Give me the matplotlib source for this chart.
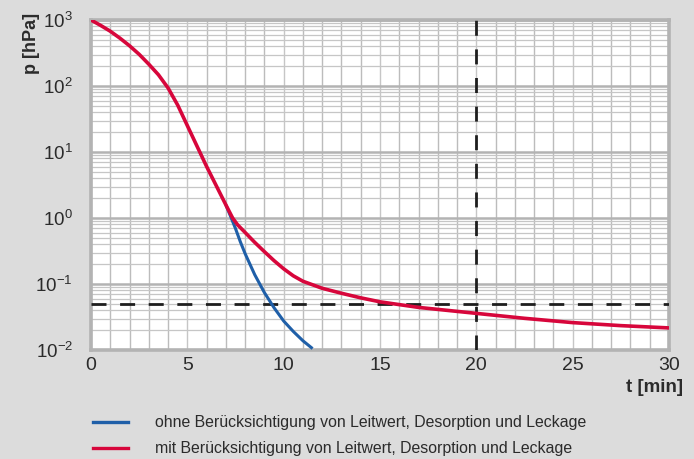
import matplotlib
matplotlib.use("Agg")
import matplotlib.pyplot as plt
from matplotlib.lines import Line2D
from matplotlib.ticker import FixedLocator, FixedFormatter, NullFormatter

# ---- data ----
t_red = [0, 0.5, 1, 1.5, 2, 2.5, 3, 3.5, 4, 4.5, 5, 5.5, 6, 6.5, 7, 7.35, 7.6, 8, 8.5, 9,
         9.5, 10, 10.5, 11, 12, 13, 14, 15, 17, 20, 22.5, 25, 27.5, 30]
p_red = [1000, 828, 676, 531, 407, 302, 214, 148, 93.3, 51.3, 25.1, 12.3, 6.03, 3.09, 1.58,
         1.0, 0.794, 0.603, 0.427, 0.309, 0.226, 0.170, 0.133, 0.110, 0.0861, 0.0724,
         0.0617, 0.0537, 0.0442, 0.0359, 0.0302, 0.026, 0.0234, 0.0216]
t_blue = [7, 7.25, 7.5, 7.75, 8, 8.5, 9, 9.5, 10, 10.5, 11, 11.5]
p_blue = [1.58, 1.05, 0.692, 0.437, 0.288, 0.138, 0.0741, 0.0437, 0.0275, 0.0191, 0.0138, 0.0105]
p_limit = 0.05
t_mark = 20
x_ticks = [0, 5, 10, 15, 20, 25, 30]
y_exps = [-2, -1, 0, 1, 2, 3]
label_blue = "ohne Berücksichtigung von Leitwert, Desorption und Leckage"
label_red = "mit Berücksichtigung von Leitwert, Desorption und Leckage"

FONT = ['Liberation Sans', 'DejaVu Sans']
plt.rcParams['font.family'] = FONT
plt.rcParams['mathtext.fontset'] = 'custom'
plt.rcParams['mathtext.rm'] = 'Liberation Sans'
plt.rcParams['mathtext.it'] = 'Liberation Sans'
plt.rcParams['mathtext.bf'] = 'Liberation Sans:bold'

BG = '#dcdcdc'
TXT = '#2b2b2b'
RED = '#d7063b'
BLUE = '#1f5fa8'
W, H = 694, 459

fig = plt.figure(figsize=(W / 100, H / 100), dpi=100, facecolor=BG)
ax = fig.add_axes([91 / W, 1 - 350 / H, 578 / W, 330 / H])
ax.set_facecolor('white')
ax.set_yscale('log')
ax.set_xlim(0, 30)
ax.set_ylim(1e-2, 1e3)

# grid
ax.xaxis.set_major_locator(FixedLocator(x_ticks))
ax.xaxis.set_minor_locator(FixedLocator([i for i in range(31) if i % 5]))
ax.yaxis.set_major_locator(FixedLocator([10.0 ** e for e in y_exps]))
ax.yaxis.set_minor_locator(FixedLocator([m * 10.0 ** e for e in y_exps[:-1] for m in range(2, 10)]))
ax.yaxis.set_major_formatter(FixedFormatter([r'$\mathregular{10^{%d}}$' % e for e in y_exps]))
ax.yaxis.set_minor_formatter(NullFormatter())
ax.grid(which='major', axis='x', color='#c6c6c6', lw=1.0)
ax.grid(which='minor', axis='x', color='#bcbcbc', lw=1.0)
ax.grid(which='major', axis='y', color='#b3b3b3', lw=1.8)
ax.grid(which='minor', axis='y', color='#c6c6c6', lw=0.9)
ax.set_axisbelow(True)
ax.tick_params(which='both', length=0)
ax.tick_params(axis='x', pad=5, labelsize=14, labelcolor=TXT)
ax.tick_params(axis='y', pad=13, labelsize=13.5, labelcolor=TXT)
for s in ax.spines.values():
    s.set_color('#b3b3b3')
    s.set_linewidth(2.6)

# reference lines
ax.axhline(p_limit, color='#1e1e1e', lw=2.0, dashes=(5.4, 4.9), zorder=3)
ax.axvline(t_mark, color='#1e1e1e', lw=2.0, dashes=(5.4, 4.9), zorder=3)

# curves
ax.plot(t_blue, p_blue, color=BLUE, lw=2.2, zorder=4, solid_capstyle='butt',
        solid_joinstyle='round')
ax.plot(t_red, p_red, color=RED, lw=2.6, zorder=5, solid_capstyle='butt',
        solid_joinstyle='round')

# axis labels
fig.text(31 / W, 1 - 43 / H, 'p [hPa]', rotation=90, ha='center', va='center',
         fontsize=13, fontweight='bold', color=TXT)
fig.text(683 / W, 1 - 379 / H, 't [min]', ha='right', va='top',
         fontsize=13.5, fontweight='bold', color=TXT)

# legend (manual)
for yy, col, lab in [(422, BLUE, label_blue), (448, RED, label_red)]:
    fig.add_artist(Line2D([93 / W, 128 / W], [1 - yy / H, 1 - yy / H], color=col, lw=2.4,
                          transform=fig.transFigure))
    fig.text(155 / W, 1 - yy / H, lab, ha='left', va='center', fontsize=11.4, color=TXT)

fig.savefig('out.png', dpi=100, facecolor=BG)
